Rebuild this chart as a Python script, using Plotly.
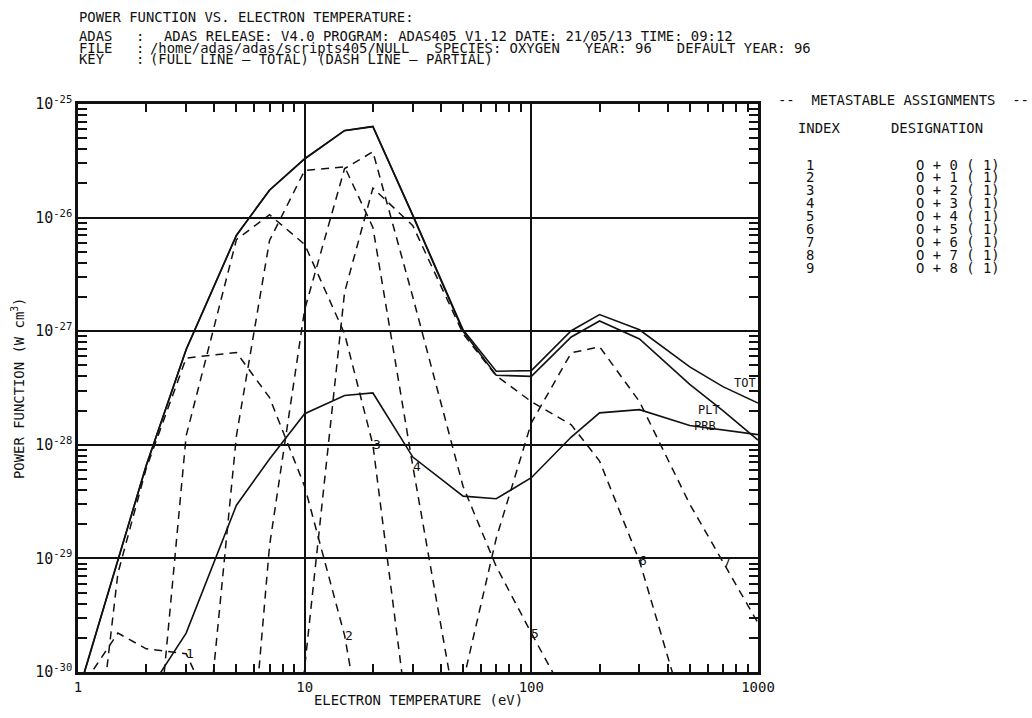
import numpy as np
import plotly.graph_objects as go

# ---------------- data ----------------
te = [1, 1.5, 2, 3, 5, 7, 10, 15, 20, 30, 50, 70, 100, 150, 200, 300, 500, 700, 1000]

tot = [6.5e-31, 9.6e-30, 6.6e-29, 6.9e-28, 7.0e-27, 1.75e-26, 3.3e-26, 5.85e-26, 6.34e-26,
       1.05e-26, 1.03e-27, 4.44e-28, 4.5e-28, 1.01e-27, 1.40e-27, 1.03e-27, 4.85e-28,
       3.25e-28, 2.33e-28]
plt_ = [6.4e-31, 9.5e-30, 6.55e-29, 6.88e-28, 6.97e-27, 1.74e-26, 3.28e-26, 5.82e-26,
        6.31e-26, 1.04e-26, 9.95e-28, 4.1e-28, 4.0e-28, 8.9e-28, 1.23e-27, 8.55e-28,
        3.4e-28, 2.0e-28, 1.1e-28]
prb = [5e-32, 2e-31, 6.3e-31, 2.2e-30, 2.94e-29, 7.5e-29, 1.88e-28, 2.72e-28, 2.86e-28,
       7.8e-29, 3.53e-29, 3.35e-29, 5.13e-29, 1.17e-28, 1.91e-28, 2.04e-28, 1.48e-28,
       1.36e-28, 1.23e-28]

N = None
p1 = [6.6e-31, 2.2e-30, 1.6e-30, 1.45e-30, 1.6e-31, 3e-32, N, N, N, N, N, N, N, N, N, N, N, N, N]
p2 = [6.9e-33, 7.4e-30, 6.2e-29, 5.8e-28, 6.5e-28, 2.6e-28, 4.3e-29, 2.1e-30, 8e-32,
      N, N, N, N, N, N, N, N, N, N]
p3 = [N, N, 1.9e-32, 1.2e-28, 6.4e-27, 1.06e-26, 5.8e-27, 9.5e-28, 1.0e-28, 1.7e-31,
      N, N, N, N, N, N, N, N, N]
p4 = [N, N, N, 3.4e-33, 1.2e-28, 6.3e-27, 2.6e-26, 2.8e-26, 8.2e-27, 6.5e-29, 2e-31,
      N, N, N, N, N, N, N, N]
p5 = [N, N, N, N, 5e-33, 1.3e-29, 1.55e-27, 2.7e-26, 3.8e-26, 2.0e-27, 4.3e-29, 8.5e-30,
      2.2e-30, 5e-31, N, N, N, N, N]
p6 = [N, N, N, N, N, 1e-33, 1.1e-30, 2.2e-27, 1.82e-26, 8.5e-27, 9.5e-28, 4.05e-28,
      2.4e-28, 1.5e-28, 7.2e-29, 9.5e-30, 3e-31, N, N]
p7 = [N, N, N, N, N, N, N, N, N, 1e-32, 8e-31, 1.5e-29, 1.56e-28, 6.45e-28, 7.3e-28,
      2.4e-28, 3.0e-29, 9.2e-30, 2.7e-30]
partials = [p1, p2, p3, p4, p5, p6, p7]
partial_names = ["1", "2", "3", "4", "5", "6", "7"]
label_index = [3, 7, 8, 9, 12, 15, 17]

x_ticks = [1, 10, 100, 1000]
x_ticktext = ["1", "10", "100", "1000"]
y_ticks = [1e-30, 1e-29, 1e-28, 1e-27, 1e-26, 1e-25]
y_ticktext = ["10<sup>-30</sup>", "10<sup>-29</sup>", "10<sup>-28</sup>",
              "10<sup>-27</sup>", "10<sup>-26</sup>", "10<sup>-25</sup>"]

legend_index = ["1", "2", "3", "4", "5", "6", "7", "8", "9"]
legend_designation = ["O + 0 ( 1)", "O + 1 ( 1)", "O + 2 ( 1)", "O + 3 ( 1)", "O + 4 ( 1)",
                      "O + 5 ( 1)", "O + 6 ( 1)", "O + 7 ( 1)", "O + 8 ( 1)"]

title_text = "POWER FUNCTION VS. ELECTRON TEMPERATURE:"
info_keys = ["ADAS", "FILE", "KEY"]
info_vals = ["ADAS RELEASE: V4.0 PROGRAM: ADAS405 V1.12 DATE: 21/05/13 TIME: 09:12",
             "/home/adas/adas/scripts405/NULL   SPECIES: OXYGEN   YEAR: 96   DEFAULT YEAR: 96",
             "(FULL LINE – TOTAL) (DASH LINE – PARTIAL)"]

# ---------------- figure ----------------
W, H = 1032, 718
ML, MR, MT, MB = 78, 274, 104, 46
FONT = "DejaVu Sans Mono, monospace"
BLACK = "#111111"
FS = 13.9


def px(x):
    return (x - ML) / (W - ML - MR)


def py(y):
    return (H - MB - y) / (H - MT - MB)


fig = go.Figure()

for vals in partials:
    fig.add_trace(go.Scatter(x=te, y=vals, mode="lines", connectgaps=False,
                             line=dict(color=BLACK, width=1.5, dash="8px,6px"),
                             showlegend=False, hoverinfo="skip"))

for vals in (tot, plt_, prb):
    fig.add_trace(go.Scatter(x=te, y=vals, mode="lines",
                             line=dict(color=BLACK, width=1.6),
                             showlegend=False, hoverinfo="skip"))

ann = []
# partial labels at data points
for name, vals, idx in zip(partial_names, partials, label_index):
    ann.append(dict(x=np.log10(te[idx]), y=np.log10(vals[idx]), xref="x", yref="y",
                    text=name, showarrow=False, xanchor="left", yanchor="middle",
                    xshift=-2, font=dict(size=13, family=FONT, color=BLACK)))

# curve names on the right
for txt, t, v in (("TOT", 764, 3.53e-28), ("PLT", 534, 2.04e-28), ("PRB", 513, 1.46e-28)):
    ann.append(dict(x=np.log10(t), y=np.log10(v), xref="x", yref="y", text=txt,
                    showarrow=False, xanchor="left", yanchor="middle",
                    font=dict(size=12, family=FONT, color=BLACK)))


def text_at(x, y, txt, size=FS, anchor="left"):
    ann.append(dict(x=px(x), y=py(y), xref="paper", yref="paper", text=txt,
                    showarrow=False, xanchor=anchor, yanchor="middle",
                    font=dict(size=size, family=FONT, color=BLACK)))


NB = "\u00a0"
text_at(77, 17.5, title_text)
rows_y = [36, 47.7, 59.3]
rows_x = [161.7, 148, 148]
for k, v, y, xv in zip(info_keys, info_vals, rows_y, rows_x):
    text_at(77, y, k)
    text_at(134, y, ":")
    text_at(xv, y, v.replace(" ", NB))

# metastable assignments block
text_at(904, 100, "--  METASTABLE ASSIGNMENTS  --".replace(" ", NB), anchor="center")
text_at(796, 128, "INDEX")
text_at(889, 128, "DESIGNATION")
for i, (ix, ds) in enumerate(zip(legend_index, legend_designation)):
    y = 164.5 + 12.9 * i
    text_at(810, y, ix, anchor="center")
    text_at(914, y, ds.replace(" ", NB))

# axis titles
text_at(418, 700, "ELECTRON TEMPERATURE (eV)", anchor="center")
ann.append(dict(x=px(18), y=py(388), xref="paper", yref="paper",
                text="POWER FUNCTION (W cm<sup>3</sup>)", showarrow=False, textangle=-90,
                xanchor="center", yanchor="middle",
                font=dict(size=FS, family=FONT, color=BLACK)))

x_minor = [m * 10 ** d for d in range(0, 3) for m in range(2, 10)]
y_minor = [m * 10.0 ** d for d in range(-30, -25) for m in range(2, 10)]

fig.update_layout(
    width=W, height=H,
    margin=dict(l=ML, r=MR, t=MT, b=MB),
    paper_bgcolor="white", plot_bgcolor="white",
    font=dict(family=FONT, size=FS, color=BLACK),
    annotations=ann,
    showlegend=False,
)
fig.update_xaxes(type="log", range=[0, 3], tickmode="array", tickvals=x_ticks,
                 ticktext=x_ticktext, ticks="inside", ticklen=8, tickwidth=1.5,
                 tickcolor=BLACK, showgrid=True, gridcolor=BLACK, gridwidth=2,
                 showline=True, linecolor=BLACK, linewidth=2.5, mirror="allticks",
                 zeroline=False, tickfont=dict(size=14, family=FONT, color=BLACK),
                 minor=dict(tickmode="array", tickvals=x_minor, ticks="inside",
                            ticklen=8, tickwidth=1.5, tickcolor=BLACK, showgrid=False))
fig.update_yaxes(type="log", range=[-30, -25], tickmode="array", tickvals=y_ticks,
                 ticktext=y_ticktext, ticks="inside", ticklen=9, tickwidth=1.5,
                 tickcolor=BLACK, showgrid=True, gridcolor=BLACK, gridwidth=2,
                 showline=True, linecolor=BLACK, linewidth=2.5, mirror="allticks",
                 zeroline=False, tickfont=dict(size=15, family=FONT, color=BLACK),
                 minor=dict(tickmode="array", tickvals=y_minor, ticks="inside",
                            ticklen=9, tickwidth=1.5, tickcolor=BLACK, showgrid=False))

fig.write_html("out.html")
